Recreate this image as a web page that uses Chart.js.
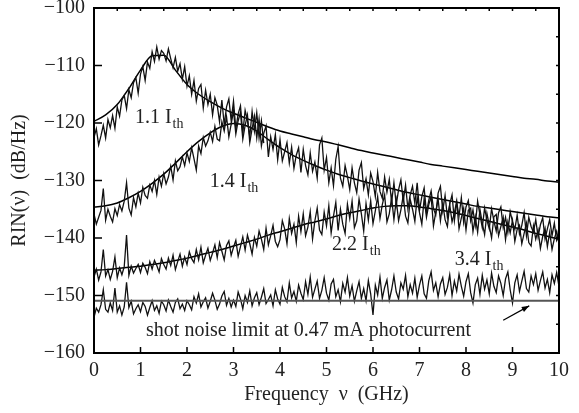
<!DOCTYPE html>
<html>
<head>
<title>RIN spectra</title>
<script src="https://cdn.jsdelivr.net/npm/chart.js@4.4.1/dist/chart.umd.min.js"></script>
<style>
body { margin:0; background:#fff; }
</style>
</head>
<body>
<canvas id="rin" width="579" height="413"></canvas>
<script>
// sample spacing of the measured traces and of the fitted curves (GHz)
var dataStep = 0.05;
var fitStep = 0.25;

var xTicks = [0, 1, 2, 3, 4, 5, 6, 7, 8, 9, 10];
var yTicks = [-160, -150, -140, -130, -120, -110, -100];

// measured RIN, 1.1 Ith (0 .. 3.65 GHz)
var rin11 = [
  -122.5, -121.0, -123.8, -122.2, -120.4, -122.6, -119.4, -120.8, -118.7, -120.9,
  -117.2, -118.8, -116.0, -115.2, -117.5, -114.2, -115.6, -113.0, -112.1, -114.8,
  -111.5, -110.2, -112.6, -109.4, -110.5, -107.6, -109.3, -106.8, -108.9, -107.4,
  -107.9, -109.2, -107.1, -108.8, -110.4, -108.6, -111.0, -109.7, -112.4, -110.2,
  -113.6, -111.8, -115.0, -112.6, -116.2, -114.0, -113.3, -117.4, -114.3, -116.8,
  -115.0, -118.6, -115.6, -116.9, -119.8, -116.0, -120.3, -117.2, -115.8, -119.6,
  -116.2, -121.0, -118.4, -117.0, -121.8, -117.8, -119.6, -122.4, -118.0, -121.4,
  -118.2, -122.6, -119.6, -123.5
];

// measured RIN, 1.4 Ith (0 .. 10 GHz)
var rin14 = [
  -135.8, -137.6, -136.4, -135.2, -131.4, -136.9, -135.0, -136.2, -137.2, -134.9,
  -136.1, -134.2, -135.3, -133.6, -130.4, -134.8, -136.0, -133.0, -134.6, -132.2,
  -133.9, -131.2, -132.6, -133.1, -130.8, -131.9, -130.0, -132.4, -129.4, -131.0,
  -128.8, -130.6, -129.4, -127.5, -129.9, -126.6, -128.3, -127.6, -125.9, -127.4,
  -125.2, -126.7, -124.3, -126.2, -128.2, -124.0, -125.3, -122.5, -124.0, -123.1,
  -121.6, -123.2, -120.6, -122.8, -123.1, -119.8, -121.4, -118.9, -122.4, -120.2,
  -117.9, -121.9, -119.6, -118.2, -122.8, -120.4, -118.6, -123.4, -121.0, -118.8,
  -122.6, -119.3, -124.0, -121.8, -120.5, -125.9, -122.4, -124.6, -122.0, -126.4,
  -122.9, -126.6, -125.0, -123.4, -127.0, -124.2, -127.9, -125.6, -124.3, -128.6,
  -124.6, -127.4, -129.0, -125.2, -128.4, -126.8, -129.6, -123.8, -122.6, -128.2,
  -126.0, -130.4, -127.8, -130.9, -126.3, -124.1, -129.6, -131.0, -127.4, -129.3,
  -131.6, -127.8, -130.4, -132.1, -128.2, -126.9, -131.4, -129.7, -132.5, -128.7,
  -130.2, -132.8, -128.6, -131.9, -133.1, -129.4, -132.0, -129.8, -133.8, -130.4,
  -134.2, -131.6, -129.9, -133.6, -130.8, -134.9, -132.5, -131.0, -134.0, -130.4,
  -135.2, -132.8, -131.3, -135.6, -133.4, -131.8, -134.9, -136.0, -132.2, -131.0,
  -135.3, -132.6, -136.4, -134.1, -132.5, -137.0, -133.8, -136.2, -133.0, -137.3,
  -134.6, -133.5, -137.0, -135.1, -137.8, -133.6, -136.0, -138.2, -134.8, -136.9,
  -138.4, -134.9, -137.0, -138.8, -135.6, -134.6, -138.2, -136.4, -139.0, -135.4,
  -137.2, -138.5, -136.0, -139.3, -137.8, -135.6, -139.6, -136.4, -138.0, -139.0,
  -136.8, -139.8, -137.7, -136.5, -140.2, -138.4, -136.8, -139.6, -137.4, -140.4,
  -139.5
];

// measured RIN, 2.2 Ith
var rin22 = [
  -146.8, -145.4, -147.3, -145.9, -142.0, -146.6, -145.5, -147.2, -145.8, -143.3,
  -146.9, -145.2, -146.4, -145.0, -139.5, -146.5, -144.9, -146.1, -145.3, -144.6,
  -146.0, -144.4, -145.1, -146.2, -144.1, -145.4, -143.9, -144.8, -145.9, -143.6,
  -144.6, -145.4, -143.5, -144.8, -143.0, -145.5, -144.1, -142.8, -144.9, -143.3,
  -144.6, -142.4, -143.6, -144.3, -142.0, -143.8, -141.6, -144.3, -143.0, -141.8,
  -143.9, -142.6, -141.2, -143.4, -140.8, -142.3, -143.8, -141.3, -140.5, -143.0,
  -141.6, -140.4, -143.2, -141.5, -139.8, -142.1, -139.5, -141.0, -142.8, -139.9,
  -141.4, -138.8, -140.2, -142.0, -138.3, -141.2, -139.6, -137.8, -140.6, -141.5,
  -140.3, -137.0, -138.4, -141.0, -136.6, -139.2, -137.6, -140.8, -136.2, -138.9,
  -135.8, -139.6, -138.1, -135.4, -140.2, -137.0, -134.8, -138.6, -139.4, -135.5,
  -137.9, -134.4, -139.1, -136.2, -133.8, -138.7, -135.0, -137.6, -139.2, -134.1,
  -136.6, -133.6, -138.2, -137.0, -133.2, -135.8, -138.8, -134.0, -136.9, -133.5,
  -137.5, -135.3, -132.8, -136.6, -134.2, -132.5, -137.2, -135.8, -133.0, -136.8,
  -133.4, -137.0, -135.1, -132.6, -136.2, -137.4, -133.3, -135.0, -137.1, -132.9,
  -135.6, -137.6, -133.1, -136.4, -134.2, -132.8, -137.9, -135.5, -133.2, -137.0,
  -134.0, -136.8, -138.0, -134.2, -137.2, -135.6, -133.6, -138.4, -136.5, -134.8,
  -138.6, -135.2, -134.8, -138.9, -136.3, -139.0, -135.0, -137.4, -139.4, -135.7,
  -137.8, -140.0, -136.3, -135.9, -139.6, -138.0, -136.4, -140.3, -137.2, -139.1,
  -136.9, -140.6, -138.5, -137.8, -141.0, -139.2, -137.4, -140.8, -141.4, -137.9,
  -140.2, -138.6, -141.8, -139.7, -138.3, -141.5, -139.0, -142.0, -140.1, -138.8,
  -141.0
];

// measured RIN, 3.4 Ith
var rin34 = [
  -153.8, -152.2, -152.9, -151.6, -149.0, -152.4, -152.9, -151.3, -152.6, -148.7,
  -152.9, -151.8, -153.4, -152.0, -147.7, -152.1, -151.0, -153.2, -152.3, -151.6,
  -152.8, -151.2, -151.9, -153.4, -152.1, -150.9, -152.6, -151.8, -153.1, -151.0,
  -151.6, -152.7, -150.8, -151.9, -152.9, -151.2, -150.6, -152.3, -151.5, -152.6,
  -150.9, -151.6, -152.5, -150.2, -151.3, -149.7, -152.0, -151.1, -150.4, -152.2,
  -151.0, -149.6, -150.8, -152.4, -151.5, -150.1, -149.3, -151.7, -150.5, -152.0,
  -150.8, -151.9, -149.4, -150.6, -152.3, -150.0, -151.2, -149.2, -151.8, -150.4,
  -149.5, -151.6, -150.3, -148.8, -151.4, -150.7, -149.9, -151.8, -149.0, -150.6,
  -151.5, -148.6, -150.2, -151.1, -147.8, -150.4, -149.3, -151.0, -148.2, -149.6,
  -150.7, -147.6, -149.8, -146.8, -150.3, -148.9, -147.5, -150.5, -149.1, -146.9,
  -149.6, -150.8, -148.0, -147.2, -150.2, -149.0, -151.1, -147.9, -149.4, -146.9,
  -150.1, -148.3, -151.0, -149.2, -147.6, -150.5, -148.8, -150.9, -147.4, -149.7,
  -153.4, -148.2, -149.9, -146.8, -150.5, -148.6, -147.3, -150.8, -149.0, -146.6,
  -149.4, -150.6, -147.8, -148.9, -146.5, -150.2, -148.1, -149.6, -147.0, -150.3,
  -148.2, -146.6, -149.7, -150.5, -147.4, -145.9, -149.1, -147.8, -150.2, -148.0,
  -146.9, -149.8, -148.6, -146.4, -150.0, -147.5, -149.2, -146.3, -148.4, -150.1,
  -147.6, -146.2, -149.5, -151.3, -148.1, -147.0, -149.8, -146.5, -148.9, -147.3,
  -149.7, -146.1, -148.4, -149.5, -146.6, -147.9, -150.0, -147.1, -145.9, -149.0,
  -151.3, -147.8, -146.4, -149.3, -147.5, -145.8, -148.8, -149.4, -146.6, -148.1,
  -146.2, -149.1, -147.4, -145.9, -148.7, -147.2, -149.5, -146.4, -147.9, -146.0,
  -148.4
];

// fitted curves, every 0.25 GHz
var fit11 = [
  -119.7, -118.6, -116.8, -114.0, -110.8, -108.3, -108.2, -110.8, -113.3, -115.0,
  -116.3, -117.4, -118.3, -119.1, -119.9, -120.7, -121.4, -121.9, -122.4, -122.9,
  -123.3, -123.8, -124.3, -124.8, -125.2, -125.6, -126.0, -126.4, -126.8, -127.2,
  -127.5, -127.8, -128.1, -128.4, -128.7, -129.0, -129.3, -129.6, -129.8, -130.1,
  -130.3
];
var fit14 = [
  -134.6, -134.4, -133.9, -133.0, -131.9, -130.5, -128.9, -127.0, -125.0, -123.2,
  -121.7, -120.6, -120.1, -120.4, -121.4, -122.9, -124.3, -125.5, -126.5, -127.4,
  -128.2, -128.9, -129.5, -130.1, -130.6, -131.1, -131.6, -132.1, -132.5, -132.9,
  -133.3, -133.7, -134.1, -134.5, -134.8, -135.1, -135.4, -135.7, -136.0, -136.3,
  -136.5
];
var fit22 = [
  -145.6, -145.5, -145.3, -145.1, -144.9, -144.6, -144.3, -143.9, -143.5, -143.0,
  -142.5, -142.0, -141.4, -140.8, -140.2, -139.5, -138.9, -138.3, -137.7, -137.2,
  -136.7, -136.1, -135.6, -135.2, -134.8, -134.5, -134.4, -134.4, -134.6, -134.9,
  -135.2, -135.6, -136.1, -136.6, -137.1, -137.6, -138.1, -138.6, -139.2, -139.7,
  -140.2
];

// shot noise limit at 0.47 mA
var shotFreq = [0, 10];
var shotRin = [-150.9, -150.9];

var curveLabels = [
  { lead: '1.1 I', sub: 'th', x: 0.88, y: -120.0 },
  { lead: '1.4 I', sub: 'th', x: 2.49, y: -131.1 },
  { lead: '2.2 I', sub: 'th', x: 5.12, y: -142.1 },
  { lead: '3.4 I', sub: 'th', x: 7.76, y: -144.7 }
];

var serif = '"Liberation Serif", "DejaVu Serif", serif';

function toPoints(values, step) {
  return values.map(function (v, i) { return { x: +(i * step).toFixed(2), y: v }; });
}

function trace(values) {
  return { data: toPoints(values, dataStep), borderColor: '#111', borderWidth: 1.3,
           pointRadius: 0, tension: 0, fill: false };
}
function fitCurve(values) {
  return { data: toPoints(values, fitStep), borderColor: '#000', borderWidth: 1.5,
           pointRadius: 0, cubicInterpolationMode: 'monotone', fill: false };
}

var framePlugin = {
  id: 'frame',
  afterDatasetsDraw: function (chart) {
    var ctx = chart.ctx, a = chart.chartArea;
    var xs = chart.scales.x, ys = chart.scales.y;
    ctx.save();
    ctx.strokeStyle = '#000';
    ctx.lineWidth = 1.5;
    ctx.beginPath();
    // bottom and left major ticks
    xTicks.forEach(function (t) {
      var px = xs.getPixelForValue(t);
      ctx.moveTo(px, a.bottom); ctx.lineTo(px, a.bottom - 6);
    });
    yTicks.forEach(function (t) {
      var py = ys.getPixelForValue(t);
      ctx.moveTo(a.left, py); ctx.lineTo(a.left + 8, py);
    });
    // top and right minor ticks
    for (var f = 0.5; f < 10; f += 0.5) {
      var px = xs.getPixelForValue(f);
      ctx.moveTo(px, a.top); ctx.lineTo(px, a.top + 3);
    }
    for (var r = -155; r < -100; r += 5) {
      var py = ys.getPixelForValue(r);
      ctx.moveTo(a.right, py); ctx.lineTo(a.right - 3, py);
    }
    ctx.stroke();
    ctx.lineWidth = 2;
    ctx.strokeRect(a.left, a.top, a.right - a.left, a.bottom - a.top);

    // curve labels
    ctx.fillStyle = '#222';
    ctx.textBaseline = 'alphabetic';
    ctx.textAlign = 'left';
    curveLabels.forEach(function (l) {
      var px = xs.getPixelForValue(l.x), py = ys.getPixelForValue(l.y);
      ctx.font = '20px ' + serif;
      ctx.fillText(l.lead, px, py);
      var w = ctx.measureText(l.lead).width;
      ctx.font = '14px ' + serif;
      ctx.fillText(l.sub, px + w + 1, py + 5);
    });

    // shot noise note and arrow
    ctx.font = '20px ' + serif;
    ctx.fillText('shot noise limit at 0.47 mA photocurrent',
      xs.getPixelForValue(1.12), ys.getPixelForValue(-157.1));
    var x0 = xs.getPixelForValue(8.80), y0 = ys.getPixelForValue(-154.3);
    var x1 = xs.getPixelForValue(9.36), y1 = ys.getPixelForValue(-151.8);
    ctx.lineWidth = 1.2;
    ctx.beginPath(); ctx.moveTo(x0, y0); ctx.lineTo(x1, y1); ctx.stroke();
    var ang = Math.atan2(y1 - y0, x1 - x0);
    ctx.beginPath();
    ctx.moveTo(x1, y1);
    ctx.lineTo(x1 - 8 * Math.cos(ang - 0.35), y1 - 8 * Math.sin(ang - 0.35));
    ctx.lineTo(x1 - 8 * Math.cos(ang + 0.35), y1 - 8 * Math.sin(ang + 0.35));
    ctx.closePath();
    ctx.fillStyle = '#000';
    ctx.fill();
    ctx.restore();
  }
};

var shotLine = { data: shotFreq.map(function (f, i) { return { x: f, y: shotRin[i] }; }),
  borderColor: '#555', borderWidth: 2, pointRadius: 0, fill: false };

new Chart(document.getElementById('rin'), {
  type: 'line',
  data: {
    datasets: [shotLine, trace(rin11), trace(rin14), trace(rin22), trace(rin34),
               fitCurve(fit11), fitCurve(fit14), fitCurve(fit22)]
  },
  options: {
    responsive: false,
    animation: false,
    devicePixelRatio: 1,
    layout: { padding: { top: 8, right: 20, left: 0, bottom: 0 } },
    plugins: { legend: { display: false }, tooltip: { enabled: false } },
    scales: {
      x: {
        type: 'linear', min: 0, max: 10,
        grid: { display: false, drawTicks: false },
        border: { display: false },
        afterBuildTicks: function (s) { s.ticks = xTicks.map(function (v) { return { value: v }; }); },
        afterFit: function (s) { s.height = 60; s.paddingLeft = 0; s.paddingRight = 0; },
        ticks: { color: '#222', padding: 6, maxRotation: 0, font: { family: serif, size: 20 } },
        title: { display: true, text: 'Frequency  \u03bd  (GHz)', color: '#222',
                 font: { family: serif, size: 20 }, padding: { top: 0, bottom: 6 } }
      },
      y: {
        min: -160, max: -100,
        grid: { display: false, drawTicks: false },
        border: { display: false },
        afterBuildTicks: function (s) { s.ticks = yTicks.map(function (v) { return { value: v }; }); },
        afterFit: function (s) { s.width = 94; s.paddingTop = 0; s.paddingBottom = 0; },
        ticks: { color: '#222', padding: 9, font: { family: serif, size: 20 },
                 callback: function (v) { return '\u2212' + Math.abs(v); } },
        title: { display: true, text: 'RIN(\u03bd)  (dB/Hz)', color: '#222',
                 font: { family: serif, size: 20 }, padding: { top: 8 } }
      }
    }
  },
  plugins: [framePlugin]
});
</script>
</body>
</html>
